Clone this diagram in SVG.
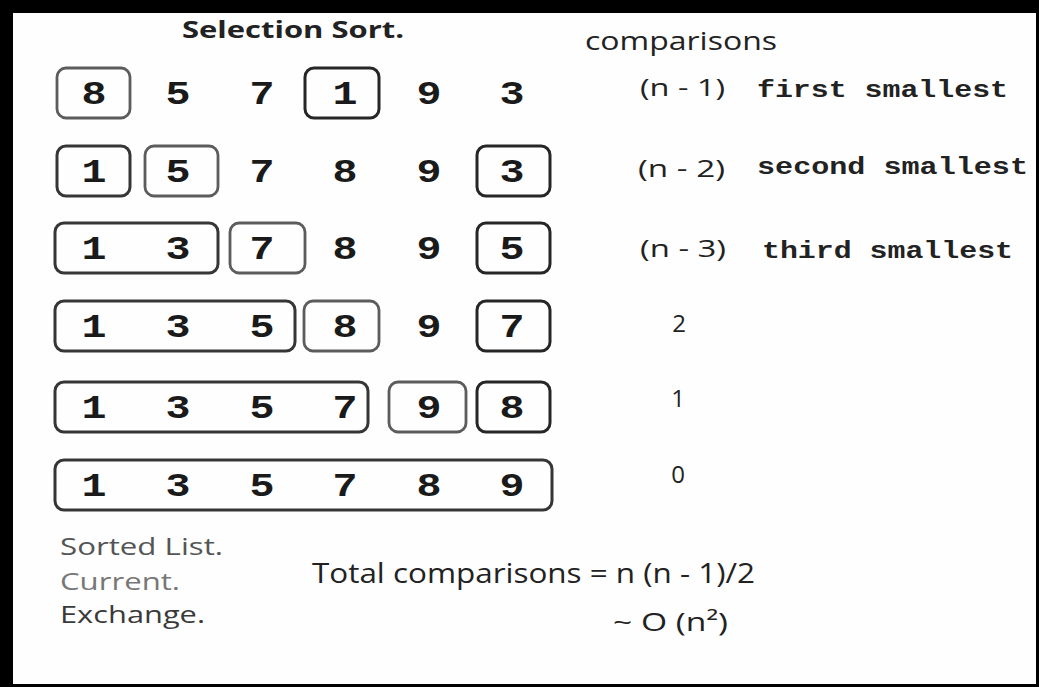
<svg xmlns="http://www.w3.org/2000/svg" width="1039" height="687" viewBox="0 0 1039 687">
<style>
.frame{fill:#000}
.bg{fill:#fefefe}
.box{fill:none;stroke-width:3}
.sorted{stroke:#363636}
.current{stroke:#5c5c5c;stroke-width:2.8}
.exch{stroke:#262626}
.d{font-family:"Liberation Mono","Courier New",monospace;font-weight:bold;font-size:33px;fill:#1a1a1a;text-anchor:middle}
.sans{font-family:"Open Sans","Liberation Sans",sans-serif;fill:#222}
.mono{font-family:"Liberation Mono","Courier New",monospace;font-weight:bold;font-size:23px;fill:#222}
.num{font-family:"Open Sans","Liberation Sans",sans-serif;font-size:24px;fill:#222;text-anchor:middle}
</style>
<rect class="frame" x="0" y="0" width="1039" height="687"/>
<rect class="bg" x="13" y="13" width="1023" height="671"/>
<text class="sans" x="182" y="38" font-size="23" font-weight="bold" textLength="222" lengthAdjust="spacingAndGlyphs">Selection Sort.</text>
<text class="sans" x="585" y="50" font-size="26" textLength="192" lengthAdjust="spacingAndGlyphs">comparisons</text>

<g id="row1">
<rect class="box current" x="57" y="68" width="73" height="50" rx="9"/>
<rect class="box exch" x="305" y="68" width="74" height="50" rx="9"/>
<text class="d" x="94" y="104" textLength="25" lengthAdjust="spacingAndGlyphs">8</text>
<text class="d" x="178" y="104" textLength="25" lengthAdjust="spacingAndGlyphs">5</text>
<text class="d" x="262" y="104" textLength="25" lengthAdjust="spacingAndGlyphs">7</text>
<text class="d" x="345" y="104" textLength="25" lengthAdjust="spacingAndGlyphs">1</text>
<text class="d" x="429" y="104" textLength="25" lengthAdjust="spacingAndGlyphs">9</text>
<text class="d" x="512" y="104" textLength="25" lengthAdjust="spacingAndGlyphs">3</text>
</g>
<g id="row2">
<rect class="box sorted" x="57" y="146" width="73" height="50" rx="9"/>
<rect class="box current" x="145" y="146" width="73" height="50" rx="9"/>
<rect class="box exch" x="477" y="146" width="73" height="50" rx="9"/>
<text class="d" x="94" y="182" textLength="25" lengthAdjust="spacingAndGlyphs">1</text>
<text class="d" x="178" y="182" textLength="25" lengthAdjust="spacingAndGlyphs">5</text>
<text class="d" x="262" y="182" textLength="25" lengthAdjust="spacingAndGlyphs">7</text>
<text class="d" x="345" y="182" textLength="25" lengthAdjust="spacingAndGlyphs">8</text>
<text class="d" x="429" y="182" textLength="25" lengthAdjust="spacingAndGlyphs">9</text>
<text class="d" x="512" y="182" textLength="25" lengthAdjust="spacingAndGlyphs">3</text>
</g>
<g id="row3">
<rect class="box sorted" x="55" y="223" width="163" height="50" rx="9"/>
<rect class="box current" x="230" y="223" width="75" height="50" rx="9"/>
<rect class="box exch" x="477" y="223" width="73" height="50" rx="9"/>
<text class="d" x="94" y="259" textLength="25" lengthAdjust="spacingAndGlyphs">1</text>
<text class="d" x="178" y="259" textLength="25" lengthAdjust="spacingAndGlyphs">3</text>
<text class="d" x="262" y="259" textLength="25" lengthAdjust="spacingAndGlyphs">7</text>
<text class="d" x="345" y="259" textLength="25" lengthAdjust="spacingAndGlyphs">8</text>
<text class="d" x="429" y="259" textLength="25" lengthAdjust="spacingAndGlyphs">9</text>
<text class="d" x="512" y="259" textLength="25" lengthAdjust="spacingAndGlyphs">5</text>
</g>
<g id="row4">
<rect class="box sorted" x="55" y="301" width="240" height="50" rx="9"/>
<rect class="box current" x="304" y="301" width="75" height="50" rx="9"/>
<rect class="box exch" x="477" y="301" width="73" height="50" rx="9"/>
<text class="d" x="94" y="337" textLength="25" lengthAdjust="spacingAndGlyphs">1</text>
<text class="d" x="178" y="337" textLength="25" lengthAdjust="spacingAndGlyphs">3</text>
<text class="d" x="262" y="337" textLength="25" lengthAdjust="spacingAndGlyphs">5</text>
<text class="d" x="345" y="337" textLength="25" lengthAdjust="spacingAndGlyphs">8</text>
<text class="d" x="429" y="337" textLength="25" lengthAdjust="spacingAndGlyphs">9</text>
<text class="d" x="512" y="337" textLength="25" lengthAdjust="spacingAndGlyphs">7</text>
</g>
<g id="row5">
<rect class="box sorted" x="55" y="382" width="313" height="50" rx="9"/>
<rect class="box current" x="389" y="382" width="77" height="50" rx="9"/>
<rect class="box exch" x="477" y="382" width="73" height="50" rx="9"/>
<text class="d" x="94" y="418" textLength="25" lengthAdjust="spacingAndGlyphs">1</text>
<text class="d" x="178" y="418" textLength="25" lengthAdjust="spacingAndGlyphs">3</text>
<text class="d" x="262" y="418" textLength="25" lengthAdjust="spacingAndGlyphs">5</text>
<text class="d" x="345" y="418" textLength="25" lengthAdjust="spacingAndGlyphs">7</text>
<text class="d" x="429" y="418" textLength="25" lengthAdjust="spacingAndGlyphs">9</text>
<text class="d" x="512" y="418" textLength="25" lengthAdjust="spacingAndGlyphs">8</text>
</g>
<g id="row6">
<rect class="box sorted" x="55" y="460" width="497" height="50" rx="9"/>
<text class="d" x="94" y="496" textLength="25" lengthAdjust="spacingAndGlyphs">1</text>
<text class="d" x="178" y="496" textLength="25" lengthAdjust="spacingAndGlyphs">3</text>
<text class="d" x="262" y="496" textLength="25" lengthAdjust="spacingAndGlyphs">5</text>
<text class="d" x="345" y="496" textLength="25" lengthAdjust="spacingAndGlyphs">7</text>
<text class="d" x="429" y="496" textLength="25" lengthAdjust="spacingAndGlyphs">8</text>
<text class="d" x="512" y="496" textLength="25" lengthAdjust="spacingAndGlyphs">9</text>
</g>

<g id="comparisons">
<text class="sans" x="640" y="96" font-size="24" textLength="85" lengthAdjust="spacingAndGlyphs">(n - 1)</text>
<text class="mono" x="757" y="97" textLength="251" lengthAdjust="spacingAndGlyphs">first smallest</text>
<text class="sans" x="638" y="177" font-size="24" textLength="87" lengthAdjust="spacingAndGlyphs">(n - 2)</text>
<text class="mono" x="757" y="174" textLength="271" lengthAdjust="spacingAndGlyphs">second smallest</text>
<text class="sans" x="640" y="257" font-size="24" textLength="86" lengthAdjust="spacingAndGlyphs">(n - 3)</text>
<text class="mono" x="762" y="258" textLength="251" lengthAdjust="spacingAndGlyphs">third smallest</text>
<text class="num" x="679" y="332">2</text>
<text class="num" x="678" y="407">1</text>
<text class="num" x="678" y="483">0</text>
</g>

<g id="legend">
<text class="sans" x="60" y="555" font-size="23" style="fill:#555" textLength="163" lengthAdjust="spacingAndGlyphs">Sorted List.</text>
<text class="sans" x="60" y="590" font-size="23" style="fill:#777" textLength="120" lengthAdjust="spacingAndGlyphs">Current.</text>
<text class="sans" x="60" y="623" font-size="23" style="fill:#3a3a3a" textLength="145" lengthAdjust="spacingAndGlyphs">Exchange.</text>
</g>
<g id="total">
<text class="sans" x="312" y="583" font-size="27" textLength="443" lengthAdjust="spacingAndGlyphs">Total comparisons = n (n - 1)/2</text>
<text class="sans" x="613" y="631" font-size="26" textLength="115" lengthAdjust="spacingAndGlyphs">~ O (n²)</text>
</g>
</svg>
